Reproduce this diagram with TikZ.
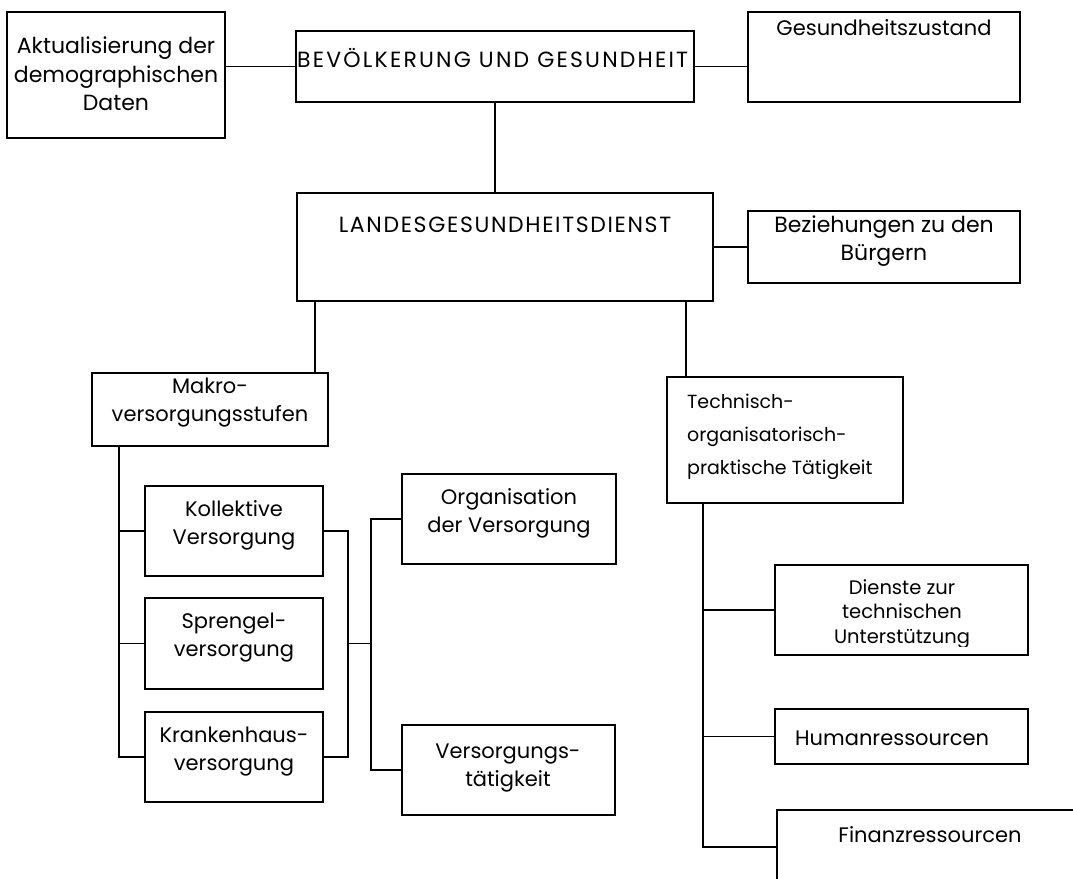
\documentclass[tikz,border=0pt]{standalone}
\usepackage{fontspec}
\setmainfont{Poppins}
\usetikzlibrary{calc}
\begin{document}
\begin{tikzpicture}[x=1pt,y=-1pt,
  box/.style={draw, line width=1.7pt, inner sep=0pt, outer sep=0pt, anchor=north west},
  conn/.style={line width=1.7pt},
  txt/.style={inner sep=0pt, align=center, font=\fontsize{21}{28}\selectfont},
  big/.style={inner sep=0pt, font=\fontsize{22}{24}\selectfont}]
\useasboundingbox (0,0) rectangle (1073,878);
\clip (0,0) rectangle (1073,878);
% boxes
\node[box, minimum width=218pt, minimum height=126pt] (A) at (7,12) {};
\node[box, minimum width=398pt, minimum height=71pt] (B) at (296,31) {};
\node[box, minimum width=272pt, minimum height=90pt] (C) at (748,12) {};
\node[box, minimum width=416pt, minimum height=108pt] (L) at (297,193) {};
\node[box, minimum width=272pt, minimum height=72pt] (D) at (748,211) {};
\node[box, minimum width=236pt, minimum height=73pt] (M) at (92,373) {};
\node[box, minimum width=236pt, minimum height=126pt] (T) at (667,377) {};
\node[box, minimum width=178pt, minimum height=90pt] (K) at (145,486) {};
\node[box, minimum width=178pt, minimum height=91pt] (S) at (145,598) {};
\node[box, minimum width=178pt, minimum height=90pt] (KH) at (145,712) {};
\node[box, minimum width=214pt, minimum height=90pt] (O) at (402,474) {};
\node[box, minimum width=213pt, minimum height=90pt] (V) at (402,725) {};
\node[box, minimum width=253pt, minimum height=90pt] (DZ) at (775,565) {};
\node[box, minimum width=253pt, minimum height=55pt] (H) at (775,709) {};
\node[box, minimum width=320pt, minimum height=74pt] (F) at (777,810) {};
% texts
\node[txt, font=\fontsize{22}{28.5}\selectfont] (At) at (116,74) {Aktualisierung der\\demographischen\\Daten};
\node[big, anchor=west, font=\fontsize{22}{24}\selectfont\addfontfeatures{LetterSpace=10}] (Bt) at (297,58) {BEVÖLKERUNG UND GESUNDHEIT};
\node[txt] (Ct) at (884,28) {Gesundheitszustand};
\node[big, font=\fontsize{22}{24}\selectfont\addfontfeatures{LetterSpace=7.5}] (Lt) at (505,225) {LANDESGESUNDHEITSDIENST};
\node[txt, font=\fontsize{22}{28}\selectfont] (Dt) at (884,241) {Beziehungen zu den\\Bürgern};
\node[txt] (Mt) at (210,403) {Makro-\\versorgungsstufen};
\node[txt, align=left, anchor=west, font=\fontsize{19}{33}\selectfont] (Tt) at (687,437) {Technisch-\\organisatorisch-\\praktische Tätigkeit};
\node[txt] (Kt) at (234,525) {Kollektive\\Versorgung};
\node[txt] (St) at (234,638) {Sprengel-\\versorgung};
\node[txt] (KHt) at (234,752) {Krankenhaus-\\versorgung};
\node[txt] (Ot) at (509,513) {Organisation\\der Versorgung};
\node[txt] (Vt) at (508,768) {Versorgungs-\\tätigkeit};
\begin{scope}
\clip (DZ.north west) rectangle ([yshift=9pt]DZ.south east);
\node[txt, font=\fontsize{19.5}{24.5}\selectfont] (DZt) at (902,614) {Dienste zur\\technischen\\Unterstützung};
\end{scope}
\node[txt, anchor=west] (Ht) at (795,738) {Humanressourcen};
\node[txt] (Ft) at (930,835) {Finanzressourcen};
% connectors
\draw[conn] (A.east |- B.west) -- (B.west);
\draw[conn] (B.east) -- (B.east -| C.west);
\draw[conn] (B.south) -- (B.south |- L.north);
\draw[conn] (L.east) -- (D.west);
\draw[conn] ([xshift=18pt]L.south west) -- ([xshift=18pt]L.south west |- M.north);
\draw[conn] ([xshift=-27pt]L.south east) -- ([xshift=-27pt]L.south east |- T.north);
\draw[conn] ([xshift=27pt]M.south west) |- (KH.west);
\draw[conn] ([xshift=27pt]M.south west |- K.west) -- (K.west);
\draw[conn] ([xshift=27pt]M.south west |- S.west) -- (S.west);
\draw[conn] (K.east) -- ++(25,0) |- (KH.east);
\draw[conn] ([xshift=25pt]S.east) -- ++(23,0);
\draw[conn] (O.west) -- ++(-31,0) |- (V.west);
\draw[conn] ([xshift=36pt]T.south west) |- (F.west);
\draw[conn] ([xshift=36pt]T.south west |- DZ.west) -- (DZ.west);
\draw[conn] ([xshift=36pt]T.south west |- H.west) -- (H.west);
\end{tikzpicture}
\end{document}
